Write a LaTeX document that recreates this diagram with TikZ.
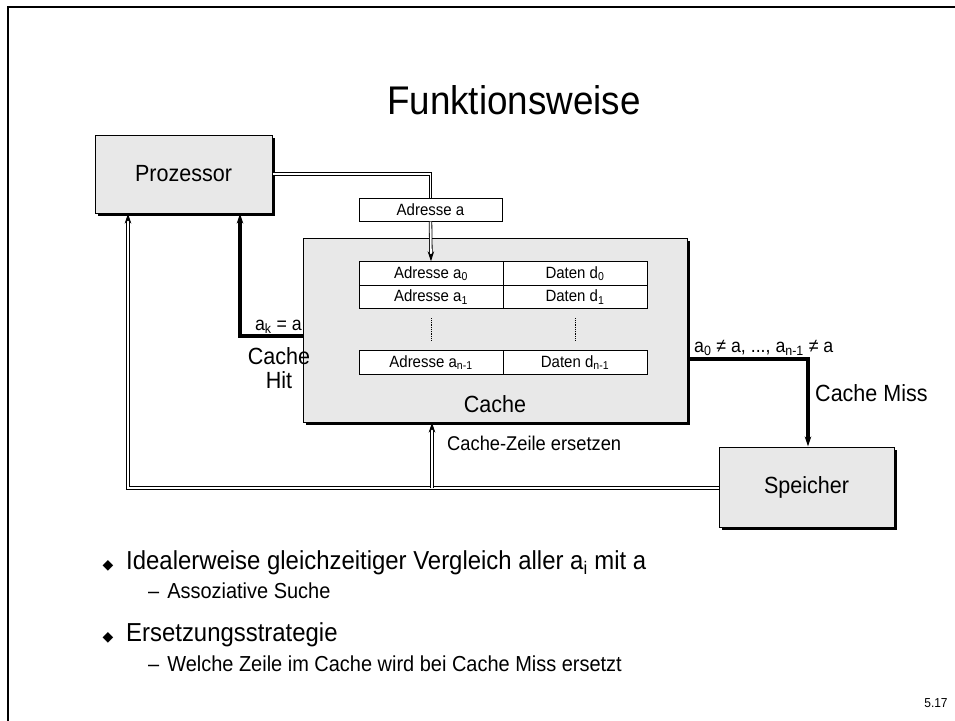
\documentclass[tikz,border=0pt]{standalone}
\usepackage{fontspec}
\setmainfont[FakeStretch=0.92]{Liberation Sans}
\newfontfamily\symfont{DejaVu Sans}
\usetikzlibrary{arrows.meta,shadows}
\definecolor{boxgray}{HTML}{E8E8E8}
\newcommand{\fsz}[1]{\fontsize{#1}{#1}\selectfont}
\begin{document}
\begin{tikzpicture}[x=1pt,y=-1pt,
  shadowed/.style={drop shadow={shadow xshift=3pt,shadow yshift=-3pt,fill=black,opacity=1}},
  graybox/.style={draw=black,line width=1pt,fill=boxgray,inner sep=0pt,shadowed},
  cell/.style={draw=black,line width=1pt,fill=white,inner sep=0pt,minimum width=144pt,minimum height=23.5pt,font=\fsz{16.3}},
  dbl/.style={draw=black,line width=0.8pt,double=white,double distance=1.8pt},
  heavy/.style={draw=black,line width=3.5pt},
  tip/.style={-{Stealth[length=10pt,width=6.5pt]}},
  lbl/.style={inner sep=0pt,font=\fsz{23.4}},
  small/.style={inner sep=0pt,font=\fsz{19.3}},
  txt/.style={inner sep=0pt,anchor=west}
]
\useasboundingbox (0,0) rectangle (955,720);
% frame
\draw[line width=2.5pt] (8,721) -- (8,7) -- (956,7);
% title
\node[inner sep=0pt,font=\fsz{40}] (title) at (514,100) {Funktionsweise};
% boxes
\node[graybox,minimum width=177pt,minimum height=78pt,font=\fsz{23.4}] (proc) at (183.5,174) {Prozessor};
\node[graybox,minimum width=384pt,minimum height=184pt] (cache) at (495,330) {};
\node[lbl] (cachelbl) at (495,404) {Cache};
\node[graybox,minimum width=175pt,minimum height=80pt,font=\fsz{23.4}] (spe) at (806.5,487) {Speicher};
\node[cell,minimum width=143pt,minimum height=23pt] (addr) at (430.5,209.5) {Adresse a};
% cache rows
\node[cell] (a0) at (431,273.5) {Adresse a\textsubscript{0}};
\node[cell] (d0) at (575,273.5) {Daten d\textsubscript{0}};
\node[cell] (a1) at (431,297) {Adresse a\textsubscript{1}};
\node[cell] (d1) at (575,297) {Daten d\textsubscript{1}};
\node[cell] (an) at (431,362.5) {Adresse a\textsubscript{n-1}};
\node[cell] (dn) at (575,362.5) {Daten d\textsubscript{n-1}};
\draw[densely dotted,line width=0.8pt] (a1.south) ++(0,9) coordinate (dA) -- ++(0,22);
\draw[densely dotted,line width=0.8pt] (d1.south) ++(0,9) coordinate (dD) -- ++(0,22);
% address path
\draw[dbl] (proc.east) -| (addr.north);
\draw[dbl,tip] (addr.south) -- (a0.north);
% hit path
\coordinate (hc) at (240,336);
\draw[heavy,tip] (cache.west |- hc) -- (hc) -- (hc |- proc.south);
\node[small,anchor=base east] (hitcond) at (302,330) {a\textsubscript{k} = a};
\node[lbl,align=center] (hitlbl) at (279,368) {Cache\\[1pt]Hit};
% miss path
\coordinate (mc) at (808,359);
\draw[heavy,tip] (cache.east |- mc) -- (mc) -- (mc |- spe.north);
\node[small,anchor=base west] (misscond) at (694,352) {a\textsubscript{0} ≠ a, ..., a\textsubscript{n-1} ≠ a};
\node[lbl,anchor=west] (misslbl) at (815,393) {Cache Miss};
% memory loop
\coordinate (lb) at (128,488);
\coordinate (cz) at (432,488);
\draw[dbl,tip] (spe.west |- lb) -- (lb) -- (lb |- proc.south);
\draw[dbl,tip] (cz) -- (cz |- cache.south);
\node[txt,font=\fsz{19.9}] (czl) at (447,443) {Cache-Zeile ersetzen};
% bullets
\node[inner sep=0pt,font=\symfont\fsz{14}] (b1) at (108,566) {◆};
\node[txt,font=\fsz{26}] (t1) at (126,563) {Idealerweise gleichzeitiger Vergleich aller a\textsubscript{i} mit a};
\node[txt,font=\fsz{21.7}] (s1) at (148,591) {–\hspace{8pt}Assoziative Suche};
\node[inner sep=0pt,font=\symfont\fsz{14}] (b2) at (108,638) {◆};
\node[txt,font=\fsz{26}] (t2) at (126,635) {Ersetzungsstrategie};
\node[txt,font=\fsz{21.7}] (s2) at (148,664) {–\hspace{8pt}Welche Zeile im Cache wird bei Cache Miss ersetzt};
\node[inner sep=0pt,font=\fsz{13}] (pg) at (936,703) {5.17};
\end{tikzpicture}
\end{document}
